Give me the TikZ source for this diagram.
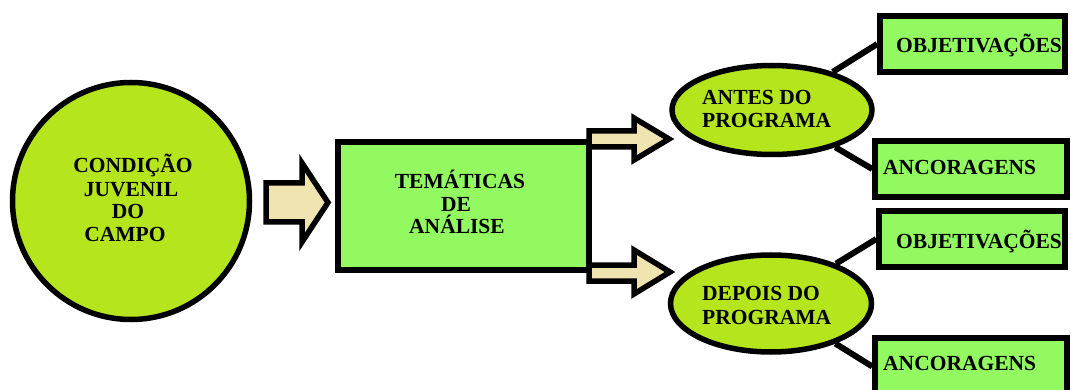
\documentclass[tikz,border=0pt]{standalone}
\usepackage{fontspec}
\setmainfont{Liberation Serif}
\usetikzlibrary{shapes.geometric,backgrounds}
\definecolor{limefill}{RGB}{181,230,29}
\definecolor{boxgreen}{RGB}{146,250,96}
\definecolor{arrowfill}{RGB}{239,228,176}

\begin{document}
\begin{tikzpicture}[x=1pt,y=-1pt,
  outline/.style={draw=black, line width=5.5pt},
  roundshape/.style={outline, fill=limefill, inner sep=0pt},
  topicbox/.style={outline, fill=boxgreen, rectangle, inner sep=0pt},
  blockarrow/.style={draw=black, line width=5.5pt, fill=arrowfill, line join=miter, miter limit=10},
  link/.style={draw=black, line width=6pt},
  txt/.style={font=\fontsize{21.5}{23}\selectfont\bfseries, inner sep=0pt, text=black}
]
\useasboundingbox (0,0) rectangle (1071,390);

% main shapes
\node[roundshape, circle, minimum size=237pt] (cj) at (131,201) {};
\node[topicbox, minimum width=251pt, minimum height=128pt] (tem) at (463.5,206) {};
\node[roundshape, ellipse, minimum width=200pt, minimum height=89pt] (antes) at (772,110) {};
\node[roundshape, ellipse, minimum width=201pt, minimum height=97pt] (depois) at (771,303.5) {};
\node[topicbox, minimum width=185pt, minimum height=56pt] (obja) at (972.5,44) {};
\node[topicbox, minimum width=192pt, minimum height=56pt] (anca) at (971,169) {};
\node[topicbox, minimum width=186pt, minimum height=56pt] (objb) at (972,239) {};
\node[topicbox, minimum width=192pt, minimum height=57pt] (ancb) at (971,366.5) {};

% connectors behind the shapes
\begin{pgfonlayer}{background}
  \draw[link] (antes) -- (obja.west);
  \draw[link] (antes) -- (anca.west);
  \draw[link] (depois) -- (objb.west);
  \draw[link] (depois) -- (ancb.west);
\end{pgfonlayer}

% block arrows
\draw[blockarrow] (266,183) -- (302,183) -- (302,163) -- (328,202.5) -- (302,242) -- (302,222) -- (266,222) -- cycle;
\draw[blockarrow] (589,131) -- (634,131) -- (634,118) -- (669,139) -- (634,160) -- (634,147) -- (589,147) -- cycle;
\draw[blockarrow] (589,265) -- (634,265) -- (634,250) -- (670,272) -- (634,294) -- (634,281) -- (589,281) -- cycle;

% labels
\node[txt, anchor=base] (cj1) at (133,173) {CONDIÇÃO};
\node[txt, anchor=base] (cj2) at (131,197) {JUVENIL};
\node[txt, anchor=base] (cj3) at (128,219) {DO};
\node[txt, anchor=base] (cj4) at (125,242) {CAMPO};

\node[txt, anchor=base] (tem1) at (460,189) {TEMÁTICAS};
\node[txt, anchor=base] (tem2) at (456,212) {DE};
\node[txt, anchor=base] (tem3) at (457,234) {ANÁLISE};

\node[txt, anchor=base west] (an1) at (702,105) {ANTES DO};
\node[txt, anchor=base west] (an2) at (702,128) {PROGRAMA};
\node[txt, anchor=base west] (dp1) at (702,300) {DEPOIS DO};
\node[txt, anchor=base west] (dp2) at (702,324) {PROGRAMA};

\node[txt, anchor=base west] (obja-t) at (896,53) {OBJETIVAÇÕES};
\node[txt, anchor=base west] (anca-t) at (883,175) {ANCORAGENS};
\node[txt, anchor=base west] (objb-t) at (896,248) {OBJETIVAÇÕES};
\node[txt, anchor=base west] (ancb-t) at (883,370) {ANCORAGENS};
\end{tikzpicture}
\end{document}
